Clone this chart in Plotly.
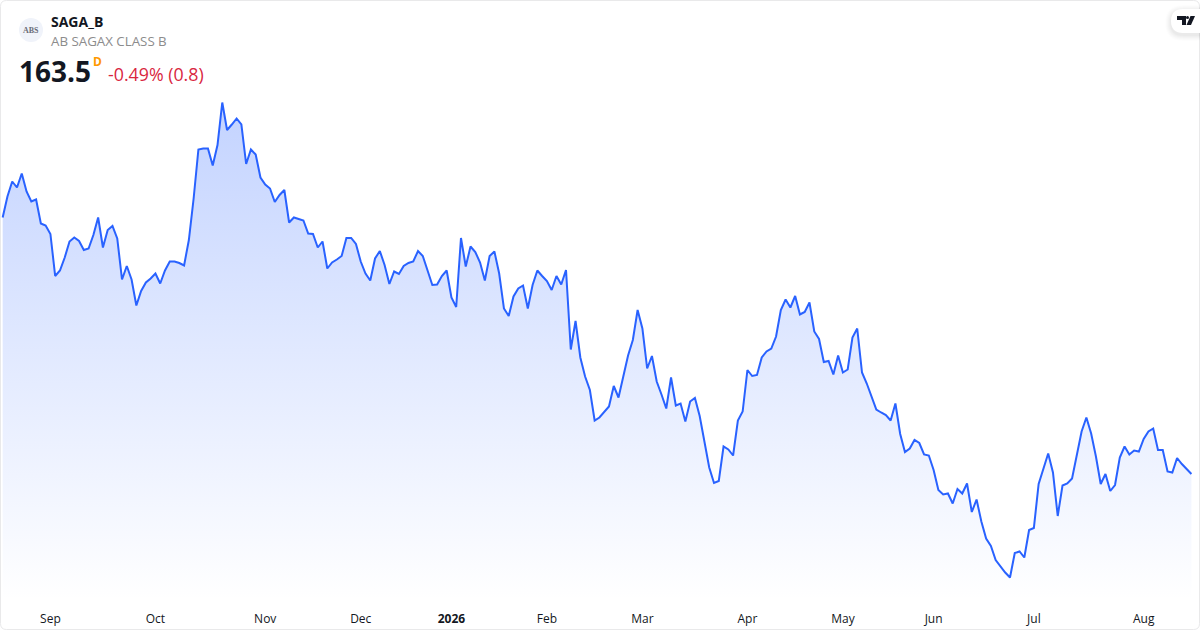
import plotly.graph_objects as go

W = 1200
H = 630
PLOT_BOTTOM = 600

SYMBOL = 'SAGA_B'
COMPANY = 'AB SAGAX CLASS B'
LAST_PRICE = '163.5'
CHANGE = '-0.49% (0.8)'

# daily closes
closes = [
    214.8, 219.0, 222.0, 220.8, 223.6, 220.0, 218.0, 218.4, 213.6, 213.2,
    211.5, 203.1, 204.2, 206.8, 210.0, 210.8, 210.1, 208.3, 208.6, 211.3,
    214.8, 208.8, 212.3, 213.1, 210.6, 202.4, 205.1, 202.4, 197.2, 200.1,
    201.8, 202.6, 203.6, 201.6, 204.2, 206.0, 206.0, 205.7, 205.2, 210.3,
    218.6, 228.4, 228.6, 228.6, 225.2, 229.3, 237.8, 232.3, 233.4, 234.6,
    233.4, 225.5, 228.4, 227.4, 222.8, 221.4, 220.6, 217.9, 219.3, 220.3,
    213.8, 214.8, 214.5, 214.2, 211.6, 211.5, 208.8, 210.0, 204.6, 205.8,
    206.4, 207.1, 210.7, 210.7, 209.5, 206.0, 203.6, 202.2, 206.6, 208.1,
    205.3, 201.5, 204.0, 203.5, 205.1, 205.7, 206.0, 208.1, 207.1, 204.3,
    201.3, 201.4, 203.1, 204.2, 198.8, 196.9, 210.7, 205.0, 209.0, 207.9,
    205.8, 202.2, 207.1, 208.0, 203.6, 196.6, 195.1, 199.0, 200.6, 201.2,
    196.6, 201.3, 204.2, 203.1, 202.1, 200.3, 203.1, 201.4, 204.3, 188.4,
    194.1, 186.8, 183.0, 180.3, 174.2, 174.8, 175.9, 177.0, 181.1, 178.8,
    183.0, 187.2, 190.3, 196.3, 192.6, 184.6, 187.1, 182.0, 179.4, 176.6,
    182.8, 177.2, 177.6, 174.0, 178.0, 178.7, 175.1, 170.3, 164.8, 161.7,
    162.1, 169.0, 168.4, 167.2, 174.2, 176.0, 184.3, 183.1, 183.3, 186.8,
    188.0, 188.6, 191.0, 196.3, 198.4, 196.8, 199.1, 195.4, 195.9, 197.8,
    192.0, 190.5, 185.9, 186.1, 183.4, 187.2, 183.8, 184.4, 190.8, 192.6,
    183.8, 181.6, 179.0, 176.4, 175.8, 175.3, 174.2, 177.6, 171.5, 167.9,
    168.6, 170.3, 169.7, 167.4, 167.2, 164.3, 160.3, 159.4, 159.6, 157.6,
    160.5, 159.6, 161.6, 155.9, 158.4, 154.0, 150.6, 149.1, 146.3, 145.0,
    143.8, 142.8, 147.7, 148.0, 146.8, 152.3, 152.7, 161.5, 164.8, 167.6,
    163.8, 155.1, 161.2, 161.6, 162.6, 167.0, 172.0, 174.8, 171.6, 167.0,
    161.5, 163.5, 160.1, 161.3, 166.8, 169.0, 167.4, 168.2, 168.0, 170.5,
    172.0, 172.6, 168.3, 168.3, 164.0, 163.8, 166.7, 165.5, 164.4, 163.5,
]
sessions = list(range(len(closes)))

# first session of each month
month_sessions = [10, 32, 55, 75, 94, 114, 134, 156, 176, 195, 216, 239]
month_labels = ['Sep', 'Oct', 'Nov', 'Dec', '<b>2026</b>', 'Feb', 'Mar', 'Apr', 'May', 'Jun', 'Jul', 'Aug']


def px(x):
    return x / W


def py(y):
    return (PLOT_BOTTOM - y) / PLOT_BOTTOM


def text(x, y, s, size, color, family='Open Sans', anchor='left'):
    fig.add_annotation(
        xref='paper', yref='paper', x=px(x), y=py(y), text=s, showarrow=False,
        xanchor=anchor, yanchor='middle', borderpad=0,
        font=dict(family=family, size=size, color=color),
    )


def rounded(x0, y0, x1, y1, r):
    return (
        f'M{px(x0 + r)},{py(y0)} L{px(x1 - r)},{py(y0)} '
        f'Q{px(x1)},{py(y0)} {px(x1)},{py(y0 + r)} L{px(x1)},{py(y1 - r)} '
        f'Q{px(x1)},{py(y1)} {px(x1 - r)},{py(y1)} L{px(x0 + r)},{py(y1)} '
        f'Q{px(x0)},{py(y1)} {px(x0)},{py(y1 - r)} L{px(x0)},{py(y0 + r)} '
        f'Q{px(x0)},{py(y0)} {px(x0 + r)},{py(y0)} Z'
    )


def poly(points):
    return 'M' + ' L'.join(f'{px(x)},{py(y)}' for x, y in points) + ' Z'


fig = go.Figure()
fig.add_trace(go.Scatter(
    x=sessions,
    y=closes,
    mode='lines',
    line=dict(color='#2962FF', width=2),
    fill='tozeroy',
    fillgradient=dict(
        type='vertical',
        start=237.8,
        stop=138.3,
        colorscale=[[0, 'rgba(41,98,255,0.28)'], [1, 'rgba(41,98,255,0)']],
    ),
    hoverinfo='skip',
    showlegend=False,
))

fig.update_layout(
    width=W,
    height=H,
    margin=dict(l=0, r=0, t=0, b=H - PLOT_BOTTOM),
    paper_bgcolor='white',
    plot_bgcolor='white',
    font=dict(family='Open Sans', size=12, color='#131722'),
)
fig.update_xaxes(
    range=[-0.559, 250.8],
    tickmode='array',
    tickvals=month_sessions,
    ticktext=month_labels,
    showgrid=False,
    zeroline=False,
    showline=False,
    ticks='outside',
    ticklen=7.5,
    tickcolor='rgba(0,0,0,0)',
    tickangle=0,
    tickfont=dict(family='Open Sans', size=12, color='#131722'),
)
fig.update_yaxes(range=[138.3, 258.3], visible=False)

# card outline
fig.add_shape(type='path', xref='paper', yref='paper', path=rounded(0.5, 0.5, 1199.5, 629.5, 6),
              line=dict(color='#e9e9ea', width=1), fillcolor='rgba(0,0,0,0)')

# TradingView badge
for grow, alpha in [(6, 0.008), (5, 0.01), (4, 0.012), (3, 0.014), (2, 0.016), (1, 0.018)]:
    fig.add_shape(type='path', xref='paper', yref='paper',
                  path=rounded(1171 - grow, 9 - grow + 2, 1215, 33 + grow + 2, 12 + grow),
                  line=dict(width=0), fillcolor=f'rgba(0,0,0,{alpha})')
fig.add_shape(type='path', xref='paper', yref='paper', path=rounded(1171, 9, 1215, 33, 12),
              line=dict(width=0), fillcolor='white')
fig.add_shape(type='path', xref='paper', yref='paper',
              path=poly([(1177, 16), (1186, 16), (1186, 25), (1182, 25), (1182, 20), (1177, 20)]),
              line=dict(width=0), fillcolor='#131722')
fig.add_shape(type='path', xref='paper', yref='paper',
              path=poly([(1190.5, 16), (1195, 16), (1191, 25), (1186.5, 25)]),
              line=dict(width=0), fillcolor='#131722')
fig.add_shape(type='circle', xref='paper', yref='paper',
              x0=px(1186), x1=px(1189), y0=py(19), y1=py(16),
              line=dict(width=0), fillcolor='#131722')

# symbol header
fig.add_shape(type='circle', xref='paper', yref='paper',
              x0=px(19), x1=px(43), y0=py(42), y1=py(18),
              line=dict(width=0), fillcolor='#f0f3fa')
text(31, 30, '<b>ABS</b>', 8, '#6a6d78', family='Liberation Serif', anchor='center')
text(50, 21, f'<b>{SYMBOL}</b>', 14, '#131722')
text(50, 40.5, COMPANY, 13.3, '#8c8c8c')
text(18, 70.5, f'<b>{LAST_PRICE}</b>', 28, '#131722')
text(92, 61, '<b>D</b>', 12, '#ff9800')
text(107, 74.5, CHANGE, 17.8, '#d9273f')

fig.write_html('out.html', config=dict(displayModeBar=False),
               post_script="document.body.style.margin='0';")
